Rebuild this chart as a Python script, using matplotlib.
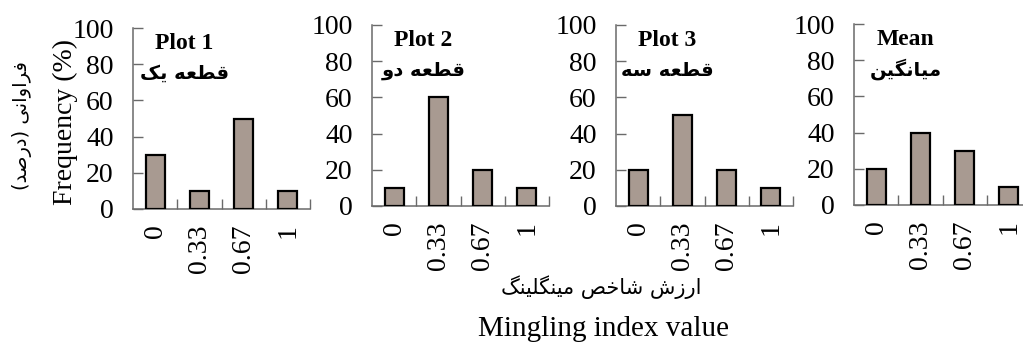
import matplotlib
matplotlib.use('Agg')
import matplotlib.pyplot as plt

# Data
categories = ['0', '0.33', '0.67', '1']
plot1 = [30, 10, 50, 10]
plot2 = [10, 60, 20, 10]
plot3 = [20, 50, 20, 10]
mean_vals = [20, 40, 30, 10]
titles_en = ['Plot 1', 'Plot 2', 'Plot 3', 'Mean']
titles_fa = ['قطعه یک', 'قطعه دو', 'قطعه سه', 'میانگین']
yticks = [0, 20, 40, 60, 80, 100]

# Simple Persian shaping (presentation forms + reversed order), since matplotlib does not shape
AR_FORMS = {
    'ا': ('\uFE8D', '\uFE8E', None, None),
    'خ': ('\uFEA5', '\uFEA6', '\uFEA7', '\uFEA8'),
    'د': ('\uFEA9', '\uFEAA', None, None),
    'ر': ('\uFEAD', '\uFEAE', None, None),
    'ز': ('\uFEAF', '\uFEB0', None, None),
    'س': ('\uFEB1', '\uFEB2', '\uFEB3', '\uFEB4'),
    'ش': ('\uFEB5', '\uFEB6', '\uFEB7', '\uFEB8'),
    'ص': ('\uFEB9', '\uFEBA', '\uFEBB', '\uFEBC'),
    'ط': ('\uFEC1', '\uFEC2', '\uFEC3', '\uFEC4'),
    'ع': ('\uFEC9', '\uFECA', '\uFECB', '\uFECC'),
    'ف': ('\uFED1', '\uFED2', '\uFED3', '\uFED4'),
    'ق': ('\uFED5', '\uFED6', '\uFED7', '\uFED8'),
    'ل': ('\uFEDD', '\uFEDE', '\uFEDF', '\uFEE0'),
    'م': ('\uFEE1', '\uFEE2', '\uFEE3', '\uFEE4'),
    'ن': ('\uFEE5', '\uFEE6', '\uFEE7', '\uFEE8'),
    'ه': ('\uFEE9', '\uFEEA', '\uFEEB', '\uFEEC'),
    'و': ('\uFEED', '\uFEEE', None, None),
    'ی': ('\uFBFC', '\uFBFD', '\uFBFE', '\uFBFF'),
    'ک': ('\uFB8E', '\uFB8F', '\uFB90', '\uFB91'),
    'گ': ('\uFB92', '\uFB93', '\uFB94', '\uFB95'),
}


def fa(text):
    out = []
    for i, ch in enumerate(text):
        if ch not in AR_FORMS:
            out.append(ch)
            continue
        prev = text[i - 1] if i > 0 else ''
        nxt = text[i + 1] if i < len(text) - 1 else ''
        join_prev = prev in AR_FORMS and AR_FORMS[prev][2] is not None
        join_next = nxt in AR_FORMS and AR_FORMS[ch][2] is not None
        iso, fin, ini, med = AR_FORMS[ch]
        if join_prev and join_next:
            out.append(med)
        elif join_prev:
            out.append(fin)
        elif join_next:
            out.append(ini)
        else:
            out.append(iso)
    vis = ''.join(reversed(out))
    return vis.translate(str.maketrans('()', ')('))


plt.rcParams['font.family'] = ['Liberation Serif', 'DejaVu Sans']
plt.rcParams['font.size'] = 20

W, H = 1023, 343
fig = plt.figure(figsize=(W / 100, H / 100), dpi=100)

# axes rects in pixels: left, top, bottom
rects = [(133, 28, 209), (372, 25, 206), (616, 25, 206), (854, 24, 205)]
series = [plot1, plot2, plot3, mean_vals]
bar_color = '#a89a91'
axis_color = '#6a6a6a'

x = list(range(len(categories)))
for (l, t, b), vals, ten, tfa in zip(rects, series, titles_en, titles_fa):
    ax = fig.add_axes([l / W, 1 - b / H, 177 / W, (b - t) / H])
    ax.bar(x, vals, width=0.43, color=bar_color, edgecolor='black', linewidth=1.6, zorder=3)
    ax.set_xlim(-0.5, 3.5)
    ax.set_ylim(0, 100)
    ax.set_yticks(yticks)
    ax.set_xticks(x)
    ax.set_xticklabels(categories, rotation=90)
    ax.set_xticks([0.5, 1.5, 2.5, 3.5], minor=True)
    ax.tick_params(axis='x', which='major', length=0, pad=11)
    ax.tick_params(axis='x', which='minor', direction='in', length=7, color=axis_color, width=1)
    ax.tick_params(axis='y', direction='in', length=7, color=axis_color, width=1, pad=14)
    for s in ['top', 'right']:
        ax.spines[s].set_visible(False)
    for s in ['left', 'bottom']:
        ax.spines[s].set_color(axis_color)
        ax.spines[s].set_linewidth(1.1)
    ax.text(0.29, 0.915, ten, transform=ax.transAxes, ha='center', va='center',
            fontsize=17, fontweight='bold')
    ax.text(0.29, 0.75, fa(tfa), transform=ax.transAxes, ha='center', va='center',
            fontsize=14, fontweight='bold', family=['DejaVu Sans'])

fig.text(65 / W, 1 - 122 / H, 'Frequency (%)', rotation=90, ha='center', va='center', fontsize=20)
fig.text(22 / W, 1 - 126 / H, fa('فراوانی (درصد)'), rotation=90, ha='center', va='center',
         fontsize=14, family=['DejaVu Sans'])
fig.text(601 / W, 1 - 287 / H, fa('ارزش شاخص مینگلینگ'), ha='center', va='center',
         fontsize=15, family=['DejaVu Sans'])
fig.text(604 / W, 1 - 329 / H, 'Mingling index value', ha='center', va='center', fontsize=21)

fig.savefig('out.png', dpi=100)
